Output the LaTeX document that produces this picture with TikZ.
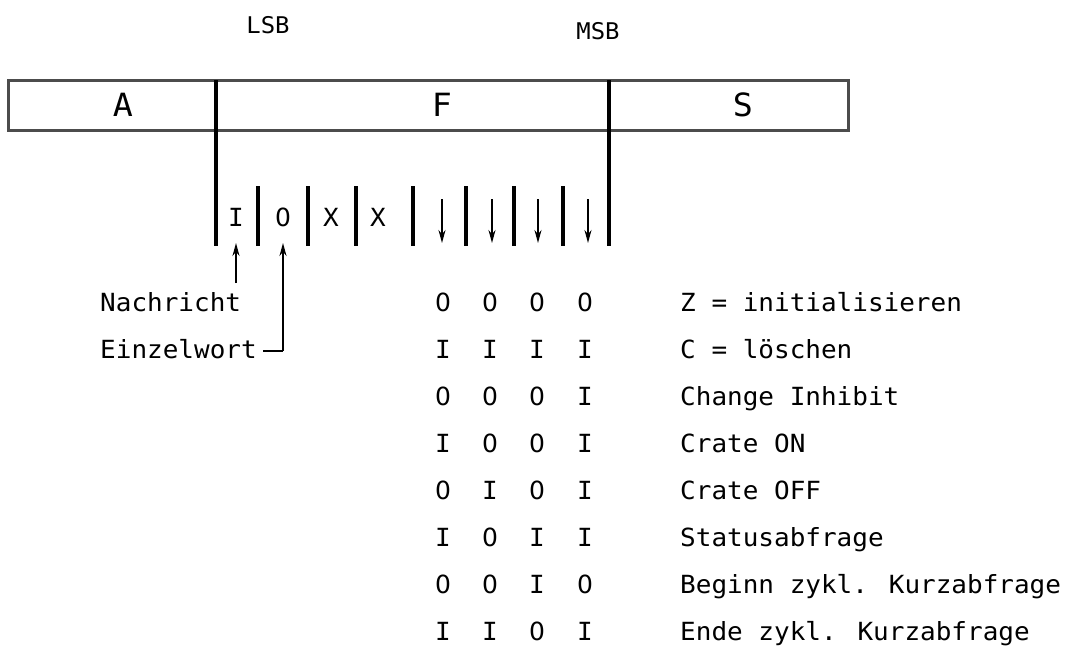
\documentclass[tikz,border=0pt]{standalone}
\usepackage{fontspec}
\setmainfont{DejaVu Sans Mono}
\newfontfamily\tw[FakeStretch=1.04]{DejaVu Sans Mono}
\newfontfamily\dz{DejaVu Sans}
\usetikzlibrary{arrows.meta}
\newcommand\zr{{\dz 0}}
\tikzset{
  txt/.style={font=\tw\fontsize{25}{30}\selectfont, inner sep=0pt, anchor=base west},
  cell/.style={font=\tw\fontsize{25}{30}\selectfont, inner sep=0pt, anchor=base},
  big/.style={font=\tw\fontsize{32}{36}\selectfont, inner sep=0pt},
  hdr/.style={font=\tw\fontsize{23}{28}\selectfont, inner sep=0pt},
  boxline/.style={line width=3pt, black!70},
  bar/.style={line width=3.2pt, black, line cap=butt},
  arr/.style={line width=1.5pt, black, -{Stealth[length=13pt,width=7pt]}},
  conn/.style={line width=1.5pt, black}
}
\begin{document}
\begin{tikzpicture}[x=1pt,y=-1pt]
\useasboundingbox (0,0) rectangle (1072,654);
\fill[white] (0,0) rectangle (1072,654);

% header labels
\node[hdr] (lsb) at (268,25) {LSB};
\node[hdr] (msb) at (598,31) {MSB};

% main box
\draw[boxline] (8,80) rectangle (848,130);
\node[big] (A) at (123,105) {A};
\node[big] (F) at (442,105) {F};
\node[big] (S) at (743,105) {S};

% long dividers
\coordinate (d1t) at (216,80);  \coordinate (d1b) at (216,246);
\coordinate (d2t) at (609,80);  \coordinate (d2b) at (609,246);
\draw[bar] (d1t) -- (d1b);
\draw[bar] (d2t) -- (d2b);

% short bars
\foreach \x [count=\i] in {258,308,356,413,466,514,563}{
  \coordinate (s\i t) at (\x,186);
  \coordinate (s\i b) at (\x,246);
  \draw[bar] (s\i t) -- (s\i b);
}

% bit letters
\node[cell] (bI) at (236,226) {I};
\node[cell] (bO) at (283,226) {\zr};
\node[cell] (bX1) at (331,226) {X};
\node[cell] (bX2) at (378,226) {X};

% down arrows
\foreach \x [count=\i] in {442,492,538,588}{
  \coordinate (a\i t) at (\x,199);
  \coordinate (a\i b) at (\x,243);
  \draw[arr] (a\i t) -- (a\i b);
}

% left labels
\node[txt] (nach) at (100,311) {Nachricht};
\node[txt] (einz) at (100,358) {Einzelwort};

\coordinate (pI) at (236,243);
\coordinate (pO) at (283,243);
\coordinate (nI) at (236,283);
\coordinate (eC) at (283,351);
\coordinate (eL) at (263,351);
\draw[arr] (nI) -- (pI);
\draw[conn] (eL) -- (eC);
\draw[arr] (eC) -- (pO);

% table
\foreach \a/\b/\c/\d/\t [count=\r from 0] in {
  \zr/\zr/\zr/\zr/{Z = initialisieren},
  I/I/I/I/{C = löschen},
  \zr/\zr/\zr/I/{Change Inhibit},
  I/\zr/\zr/I/{Crate ON},
  \zr/I/\zr/I/{Crate OFF},
  I/\zr/I/I/{Statusabfrage},
  \zr/\zr/I/\zr/{Beginn zykl. Kurzabfrage},
  I/I/\zr/I/{Ende zykl. Kurzabfrage}}{
  \pgfmathsetmacro\yy{311+47*\r}
  \node[cell] (c\r a) at (443,\yy) {\a};
  \node[cell] (c\r b) at (490,\yy) {\b};
  \node[cell] (c\r c) at (537,\yy) {\c};
  \node[cell] (c\r d) at (585,\yy) {\d};
  \node[txt] (t\r) at (680,\yy) {\t};
}
\end{tikzpicture}
\end{document}
